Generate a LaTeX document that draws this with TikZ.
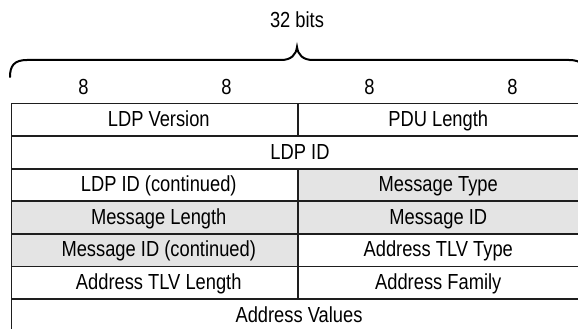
\documentclass[tikz,border=0pt]{standalone}
\usepackage{fontspec}
\setmainfont{Liberation Sans}[FakeStretch=0.84]
\usetikzlibrary{calc}
\definecolor{linec}{HTML}{1E1E1E}
\definecolor{shade}{HTML}{E4E4E4}
\tikzset{
  cell/.style={draw=linec, line width=1.7pt, anchor=north west, inner sep=0pt, outer sep=0pt,
               minimum height=32.6pt, fill=white},
  half/.style={cell, minimum width=286.5pt},
  full/.style={cell, minimum width=573pt},
  grey/.style={fill=shade},
  lbl/.style={font=\fontsize{21.8}{24}\selectfont, inner sep=0pt, anchor=base, text=black},
  bracepath/.style={draw=black, line width=2pt, line cap=round}
}
\begin{document}
\begin{tikzpicture}[x=1pt, y=-1pt]
  \useasboundingbox (0,0) rectangle (578,329);
  \clip (0,0) rectangle (578,329);

  % field width caption and brace
  \node[lbl] (total) at (297,27.5) {32 bits};
  \coordinate (bl) at (10,77);
  \coordinate (tip) at (297,47);
  \coordinate (br) at (586,77);
  \draw[bracepath] (bl) .. controls (10,66) and (14,60) .. (27,60) -- (281,60)
        .. controls (291,60) and (296,55) .. (tip)
        .. controls (298,55) and (303,60) .. (313,60) -- (569,60)
        .. controls (582,60) and (586,66) .. (br);

  % octet markers
  \node[lbl] (o1) at (83.5,94) {8};
  \node[lbl] (o2) at (226.5,94) {8};
  \node[lbl] (o3) at (369.5,94) {8};
  \node[lbl] (o4) at (512.5,94) {8};

  % header rows
  \node[half] (c1l) at (11.5,103.5) {};
  \node[half] (c1r) at (298,103.5) {};
  \node[full] (c2)  at (11.5,136.1) {};
  \node[half] (c3l) at (11.5,168.7) {};
  \node[half, grey] (c3r) at (298,168.7) {};
  \node[half, grey] (c4l) at (11.5,201.3) {};
  \node[half, grey] (c4r) at (298,201.3) {};
  \node[half, grey] (c5l) at (11.5,233.9) {};
  \node[half] (c5r) at (298,233.9) {};
  \node[half] (c6l) at (11.5,266.5) {};
  \node[half] (c6r) at (298,266.5) {};
  \node[full] (c7)  at (11.5,299.1) {};

  % field names
  \node[lbl] (t1l) at ($(c1l.north)+(4,23)$) {LDP Version};
  \node[lbl] (t1r) at ($(c1r.north)+(-3,23)$) {PDU Length};
  \node[lbl] (t2)  at ($(c2.north)+(2,23)$) {LDP ID};
  \node[lbl] (t3l) at ($(c3l.north)+(4,23)$) {LDP ID (continued)};
  \node[lbl] (t3r) at ($(c3r.north)+(-3,23)$) {Message Type};
  \node[lbl] (t4l) at ($(c4l.north)+(4,23)$) {Message Length};
  \node[lbl] (t4r) at ($(c4r.north)+(-3,23)$) {Message ID};
  \node[lbl] (t5l) at ($(c5l.north)+(4,23)$) {Message ID (continued)};
  \node[lbl] (t5r) at ($(c5r.north)+(-3,23)$) {Address TLV Type};
  \node[lbl] (t6l) at ($(c6l.north)+(4,23)$) {Address TLV Length};
  \node[lbl] (t6r) at ($(c6r.north)+(-3,23)$) {Address Family};
  \node[lbl] (t7)  at ($(c7.north)+(1,23)$) {Address Values};
\end{tikzpicture}
\end{document}
